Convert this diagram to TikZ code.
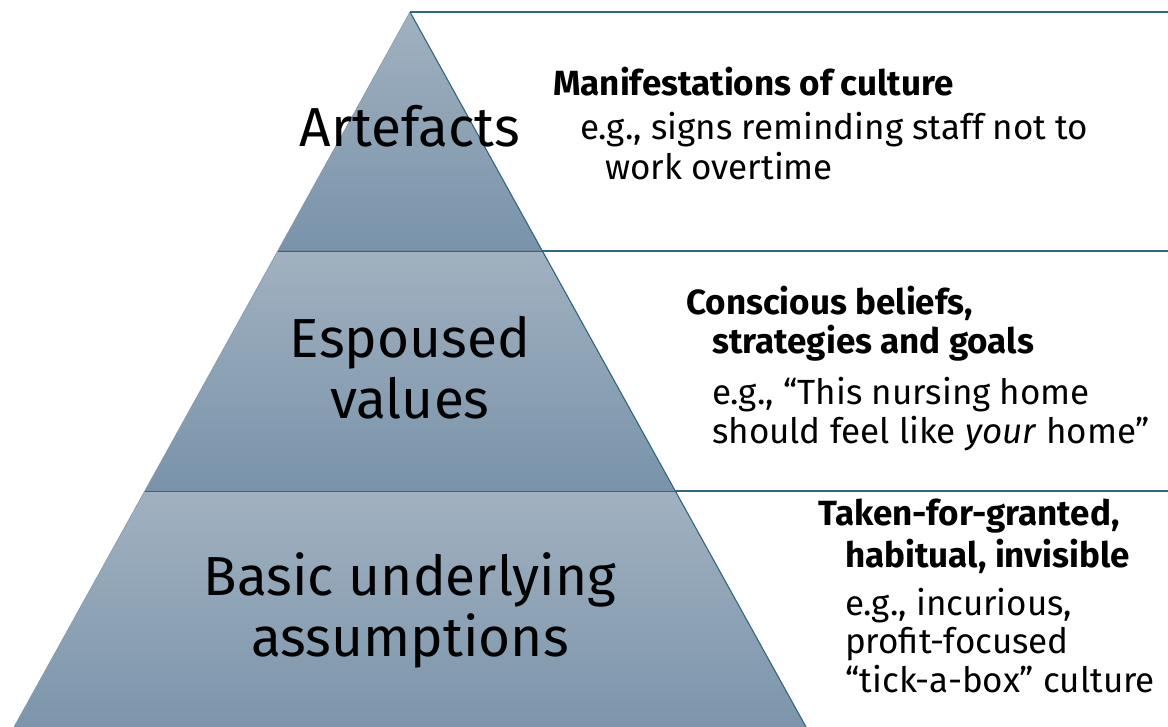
\documentclass[tikz,border=0pt]{standalone}
\usepackage{fontspec}
\setmainfont{Fira Sans}
\usepackage{tikz}

\definecolor{bandtop}{RGB}{161,177,192}
\definecolor{bandbot}{RGB}{121,147,170}
\definecolor{edgeblue}{RGB}{47,103,133}
\definecolor{rulegray}{RGB}{80,92,104}

\tikzset{
  band/.style={top color=bandtop, bottom color=bandbot},
  level/.style={align=center, anchor=base, font=\fontsize{55}{61}\selectfont},
  head/.style={anchor=base west, inner sep=0pt, font=\fontsize{35}{40}\selectfont\bfseries},
  note/.style={anchor=base west, inner sep=0pt, font=\fontsize{35}{40}\selectfont},
}

\begin{document}
\begin{tikzpicture}[x=1pt,y=-1pt]
\useasboundingbox (0,0) rectangle (1168,727);
\clip (0,0) rectangle (1168,727);

\coordinate (apex) at (410,12);
\coordinate (l1) at (278,251);
\coordinate (r1) at (542,251);
\coordinate (l2) at (145,491);
\coordinate (r2) at (675,491);
\coordinate (l3) at (4,745);
\coordinate (r3) at (816,745);
\coordinate (e0) at (1168,12);
\coordinate (e1) at (1168,251);
\coordinate (e2) at (1168,491);

% the three layers
\fill[band] (apex) -- (r1) -- (l1) -- cycle;
\fill[band] (l1) -- (r1) -- (r2) -- (l2) -- cycle;
\fill[band] (l2) -- (r2) -- (r3) -- (l3) -- cycle;
\draw[rulegray, line width=0.9pt] (l1) -- (r1) (l2) -- (r2);
\draw[bandtop!70!gray, line width=0.6pt] (apex) -- (l3);
\draw[edgeblue, line width=1.1pt] (apex) -- (r3);

% rules out to the right
\draw[edgeblue, line width=1.1pt] (apex) -- (e0);
\draw[edgeblue, line width=1.1pt] (r1) -- (e1);
\draw[edgeblue, line width=1.1pt] (r2) -- (e2);

\node[level] (art) at (410,147) {Artefacts};
\node[level] (esp) at (410,418) {Espoused\\values};
\node[level] (bas) at (410,656) {Basic underlying\\assumptions};

\node[head] (h1) at (553,96) {Manifestations of culture};
\node[note] (n1a) at (580,140) {e.g., signs reminding staff not to};
\node[note] (n1b) at (605,180) {work overtime};

\node[head] (h2a) at (686,315) {Conscious beliefs,};
\node[head] (h2b) at (712,354) {strategies and goals};
\node[note] (n2a) at (712,404) {e.g., “This nursing home};
\node[note] (n2b) at (712,443) {should feel like \textit{your} home”};

\node[head] (h3a) at (818,525) {Taken-for-granted,};
\node[head] (h3b) at (845,567) {habitual, invisible};
\node[note] (n3a) at (845,615) {e.g., incurious,};
\node[note] (n3b) at (845,653) {profit-focused};
\node[note] (n3c) at (845,692) {“tick-a-box” culture};
\end{tikzpicture}
\end{document}
